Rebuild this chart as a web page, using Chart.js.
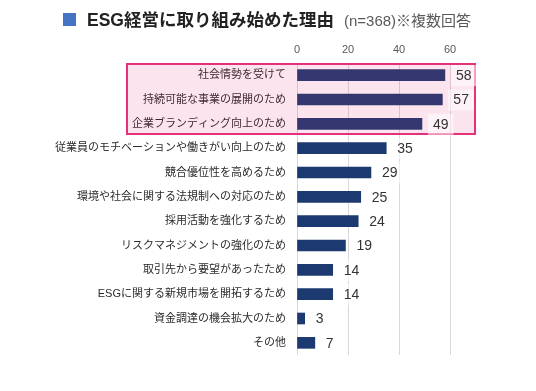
<!DOCTYPE html>
<html>
<head>
<meta charset="utf-8">
<script src="https://cdn.jsdelivr.net/npm/chart.js@4.4.1/dist/chart.umd.min.js"></script>
<style>
  html, body { margin: 0; padding: 0; background: #ffffff; }
  #wrap { position: relative; width: 536px; height: 391px; overflow: hidden; }
  #c { position: absolute; left: 0; top: 0; }
  .sq { position: absolute; left: 63px; top: 13px; width: 13px; height: 13px; background: #4472C4; }
  .t1 { position: absolute; left: 87px; top: 8px; line-height: 24px; font-family: 'Liberation Sans', 'Noto Sans CJK JP', sans-serif; font-weight: bold; font-size: 17.5px; color: #222222; white-space: nowrap; }
  .t2 { position: absolute; left: 344px; top: 10px; line-height: 22px; font-family: 'Liberation Sans', 'Noto Sans CJK JP', sans-serif; font-size: 15px; color: #595959; white-space: nowrap; }
</style>
</head>
<body>
<div id="wrap">
  <canvas id="c" width="536" height="391"></canvas>
  <div class="sq"></div>
  <div class="t1">ESG経営に取り組み始めた理由</div>
  <div class="t2">(n=368)※複数回答</div>
</div>
<script>
const categories = [
  '社会情勢を受けて',
  '持続可能な事業の展開のため',
  '企業ブランディング向上のため',
  '従業員のモチベーションや働きがい向上のため',
  '競合優位性を高めるため',
  '環境や社会に関する法規制への対応のため',
  '採用活動を強化するため',
  'リスクマネジメントの強化のため',
  '取引先から要望があったため',
  'ESGに関する新規市場を開拓するため',
  '資金調達の機会拡大のため',
  'その他'
];
const values = [58, 57, 49, 35, 29, 25, 24, 19, 14, 14, 3, 7];
const xTicks = [0, 20, 40, 60];
const highlighted = [0, 1, 2];

const FONT = "'Liberation Sans', 'Noto Sans CJK JP', sans-serif";

const highlightPlugin = {
  id: 'highlight',
  afterDatasetsDraw(chart) {
    const ctx = chart.ctx;
    const y = chart.scales.y;
    const step = y.getPixelForValue(1) - y.getPixelForValue(0);
    const top = y.getPixelForValue(highlighted[0]) - step / 2 + 1;
    const bottom = y.getPixelForValue(highlighted[highlighted.length - 1]) + step / 2 - 2;
    const left = 127, right = 475;
    ctx.save();
    ctx.fillStyle = 'rgba(230,30,113,0.12)';
    ctx.fillRect(left, top, right - left, bottom - top);
    ctx.strokeStyle = '#E5307A';
    ctx.lineWidth = 2;
    ctx.strokeRect(left, top, right - left, bottom - top);
    ctx.restore();

    // value labels
    const meta = chart.getDatasetMeta(0);
    ctx.save();
    ctx.font = '14px ' + FONT;
    ctx.textBaseline = 'middle';
    ctx.textAlign = 'left';
    meta.data.forEach((bar, i) => {
      const txt = String(values[i]);
      const w = ctx.measureText(txt).width;
      const tx = bar.x + 11;
      ctx.fillStyle = 'rgba(255,255,255,0.55)';
      ctx.fillRect(tx - 5, bar.y - 10, w + 10, 21);
      ctx.fillStyle = '#333333';
      ctx.fillText(txt, tx, bar.y + 1);
    });
    ctx.restore();
  }
};

new Chart(document.getElementById('c'), {
  type: 'bar',
  data: {
    labels: categories,
    datasets: [{
      data: values,
      backgroundColor: '#1C3A6F',
      borderWidth: 0,
      barThickness: 11
    }]
  },
  options: {
    indexAxis: 'y',
    responsive: false,
    devicePixelRatio: 1,
    animation: false,
    layout: { padding: { left: 0, right: 86, top: 0, bottom: 36 } },
    plugins: {
      legend: { display: false },
      tooltip: { enabled: false },
      title: { display: false }
    },
    scales: {
      x: {
        position: 'top',
        min: xTicks[0],
        max: xTicks[xTicks.length - 1],
        afterBuildTicks(scale) { scale.ticks = xTicks.map(v => ({ value: v })); },
        afterFit(scale) { scale.height = 63; },
        ticks: { padding: 6, color: '#595959', font: { family: FONT, size: 11 } },
        grid: { color: '#D9D9D9', lineWidth: 1, drawTicks: false },
        border: { display: false }
      },
      y: {
        afterFit(scale) { scale.width = 297; },
        ticks: { padding: 11, color: '#2B2B2B', autoSkip: false, font: { family: FONT, size: 11 } },
        grid: { display: false, drawTicks: false },
        border: { display: false }
      }
    }
  },
  plugins: [highlightPlugin]
});
</script>
</body>
</html>
